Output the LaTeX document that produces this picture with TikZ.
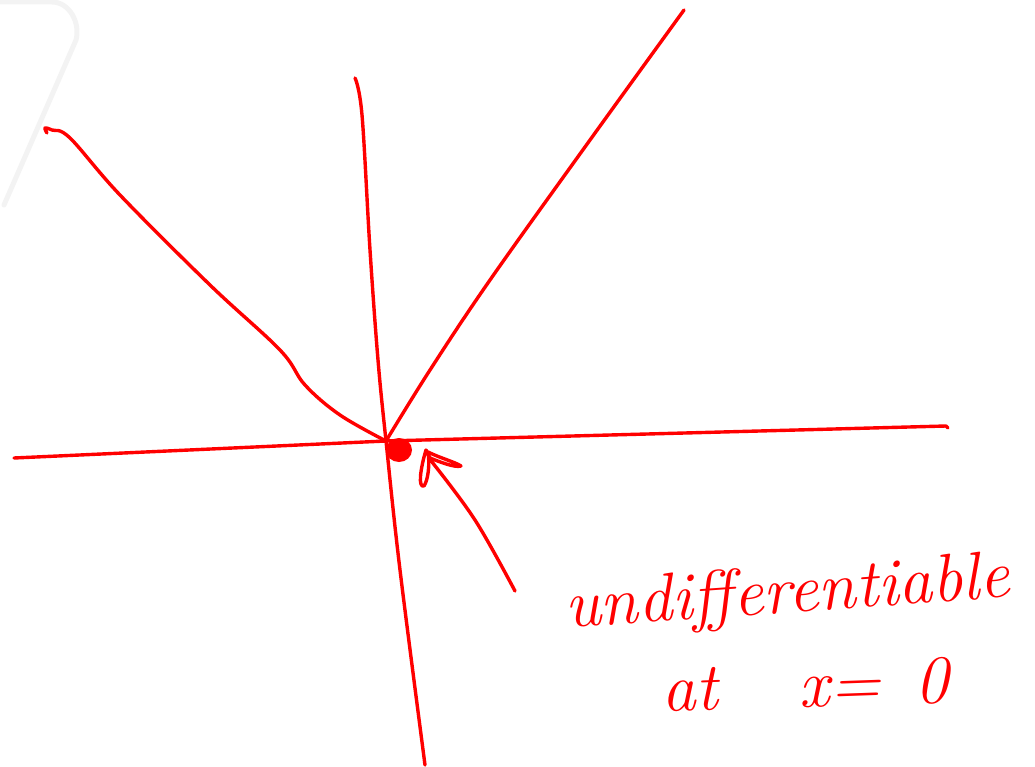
\documentclass[tikz,border=0pt]{standalone}
\usetikzlibrary{calc,shapes.geometric}
\definecolor{pen}{HTML}{FF0000}
\definecolor{ghost}{HTML}{F3F3F3}
\tikzset{
  ink/.style={draw=pen, line width=3.4pt, line cap=round, line join=round},
  hand/.style={text=pen, font=\fontsize{68}{72}\selectfont\itshape, inner sep=0pt, anchor=base west}
}
\begin{document}
\begin{tikzpicture}[x=1pt,y=-1pt]
\useasboundingbox (0,0) rectangle (1035,767);
% faint background shape
\draw[ghost, line width=5pt, line cap=round, line join=round]
  (0,2) -- (52,2) to[out=0,in=75] (76,40) -- (4,205);
% origin
\coordinate (O) at (386,441);
% horizontal axis
\coordinate (hl) at (14,458);
\coordinate (hr) at (946,426);
\draw[ink] (hl) -- (O) -- (hr) -- ++(2,2);
% vertical axis
\coordinate (vt) at (355,78);
\coordinate (vb) at (425,765);
\draw[ink] plot[smooth, tension=0.6] coordinates {(vt) (362,115) (370,250) (378,360) (O) (400,570) (vb)};
% right branch
\coordinate (rt) at (684,10);
\draw[ink] plot[smooth, tension=0.6] coordinates {(O) (430,370) (490,280) (590,140) (rt)};
% left branch
\coordinate (lt) at (52,130);
\draw[ink] plot[smooth, tension=0.6] coordinates {(47,133) (45,128) (lt) (70,138) (120,195) (210,285) (280,350) (305,385) (340,415) (O)};
% dot
\node[ellipse, fill=pen, minimum width=26pt, minimum height=24pt, inner sep=0pt] (dot) at (399,450) {};
% arrow
\coordinate (atail) at (515,591);
\coordinate (ahead) at (432,462);
\draw[ink] plot[smooth, tension=0.6] coordinates {(ahead) (475,520) (atail)};
\draw[ink] (ahead) -- (426,450) .. controls (420,470) and (418,488) .. (424,486) .. controls (428,480) and (430,465) .. (428,452);
\draw[ink] (428,452) .. controls (440,458) and (455,462) .. (461,466) .. controls (455,468) and (440,462) .. (430,458);
% text
\node[hand, rotate=4] (t1) at (566,628) {undifferentiable};
\node[hand, rotate=2] (t2) at (662,712) {at\hspace{1.2em}x=\hspace{0.5em}0};
\end{tikzpicture}
\end{document}
